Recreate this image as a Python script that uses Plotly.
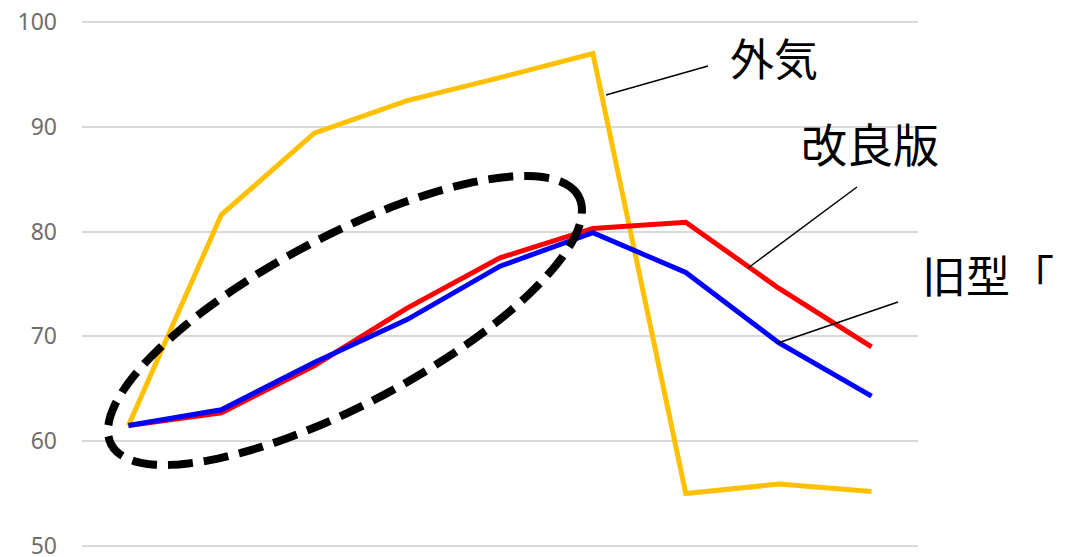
import math
import plotly.graph_objects as go

# Nine sampling points along the horizontal axis (no labels shown)
steps = list(range(9))

outside_air = [61.5, 81.6, 89.4, 92.5, 94.7, 97.0, 55.0, 55.9, 55.2]   # 外気
improved = [61.5, 62.7, 67.2, 72.7, 77.5, 80.3, 80.9, 74.6, 69.0]      # 改良版
old_model = [61.5, 63.0, 67.5, 71.6, 76.7, 79.9, 76.1, 69.4, 64.3]     # 旧型

y_ticks = [50, 60, 70, 80, 90, 100]

W, H = 1081, 557
ML, MR, MT, MB = 82, 163, 21, 10
PW, PH = W - ML - MR, H - MT - MB
Y_LO, Y_HI = 49.9, 100.1


def paper(px, py):
    """Convert page pixel position to paper coordinates."""
    return (px - ML) / PW, (H - MB - py) / PH


fig = go.Figure()

for name, vals, color in [
    ("外気", outside_air, "#FFC000"),
    ("改良版", improved, "#FF0000"),
    ("旧型", old_model, "#0000FF"),
]:
    fig.add_trace(go.Scatter(
        x=steps, y=vals, mode="lines", name=name,
        line=dict(color=color, width=5),
        hoverinfo="skip",
    ))

# Dashed ellipse highlighting the early rise
cx, cy, a, b, th = 345, 320.5, 264.6, 83.9, math.radians(27.95)
pts = []
for i in range(121):
    t = 2 * math.pi * i / 120
    ex = a * math.cos(t)
    ey = b * math.sin(t)
    px = cx + ex * math.cos(th) - ey * math.sin(th)
    py = cy - (ex * math.sin(th) + ey * math.cos(th))
    pts.append(paper(px, py))
path = "M " + " L ".join(f"{x:.5f},{y:.5f}" for x, y in pts) + " Z"
fig.add_shape(type="path", path=path, xref="paper", yref="paper",
              line=dict(color="black", width=8, dash="25px,11px"))

# Leader lines from labels to the series
leaders = [((606, 95), (708, 66)), ((748, 268), (857, 187)), ((778, 343), (898, 302))]
for (x0, y0), (x1, y1) in leaders:
    p0, p1 = paper(x0, y0), paper(x1, y1)
    fig.add_shape(type="line", xref="paper", yref="paper",
                  x0=p0[0], y0=p0[1], x1=p1[0], y1=p1[1],
                  line=dict(color="black", width=1.5))

labels = [("外気", 774, 57, "center", 44), ("改良版", 870, 142, "center", 46),
          ("旧型「", 920, 274, "left", 44)]
for text, px, py, anchor, size in labels:
    x, y = paper(px, py)
    fig.add_annotation(text=text, x=x, y=y, xref="paper", yref="paper",
                       xanchor=anchor, yanchor="middle", showarrow=False,
                       font=dict(family="Noto Sans CJK JP", size=size, color="black"))

fig.update_layout(
    width=W, height=H,
    margin=dict(l=ML, r=MR, t=MT, b=MB, autoexpand=False),
    paper_bgcolor="white", plot_bgcolor="white",
    showlegend=False,
    font=dict(family="Noto Sans CJK JP"),
    xaxis=dict(range=[-0.5, 8.5], showticklabels=False, showgrid=False,
               zeroline=False, showline=False, ticks="", automargin=False),
    yaxis=dict(range=[Y_LO, Y_HI], tickvals=y_ticks, showgrid=True,
               gridcolor="#D9D9D9", gridwidth=1.5, zeroline=False,
               showline=False, ticks="", ticklabelstandoff=24,
               ticklabeloverflow="allow", automargin=False,
               tickfont=dict(family="Noto Sans, Noto Sans CJK JP", size=23, color="#6E6E6E")),
)

fig.write_html("out.html")
